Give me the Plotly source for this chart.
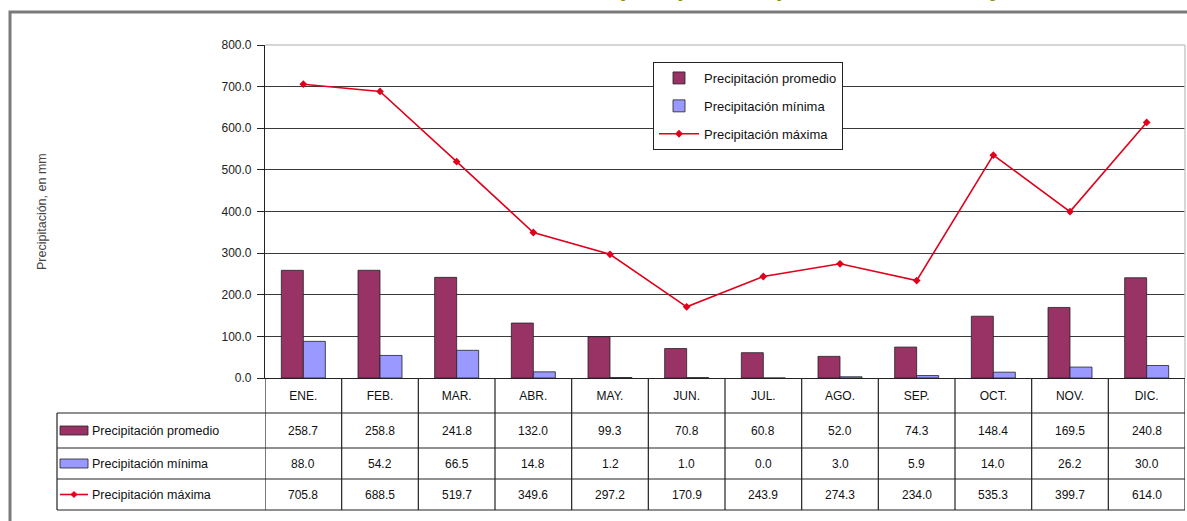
import plotly.graph_objects as go

meses = ["ENE.", "FEB.", "MAR.", "ABR.", "MAY.", "JUN.", "JUL.", "AGO.", "SEP.", "OCT.", "NOV.", "DIC."]
promedio = [258.7, 258.8, 241.8, 132.0, 99.3, 70.8, 60.8, 52.0, 74.3, 148.4, 169.5, 240.8]
minima = [88.0, 54.2, 66.5, 14.8, 1.2, 1.0, 0.0, 3.0, 5.9, 14.0, 26.2, 30.0]
maxima = [705.8, 688.5, 519.7, 349.6, 297.2, 170.9, 243.9, 274.3, 234.0, 535.3, 399.7, 614.0]
series_names = ["Precipitación promedio", "Precipitación mínima", "Precipitación máxima"]
y_title = "Precipitación, en mm"
titulo = "Variación de la precipitación promedio, mínima y máxima"

C_PROM = "#993366"
C_MIN = "#9999FF"
C_MAX = "#E0001B"
FONT = "Liberation Sans"

W, H = 1187, 521
L, R, T, B = 265, 2, 45, 143
PW, PH = W - L - R, H - T - B


def px_x(p):
    return (p - L) / PW


def px_y(p):
    return (H - B - p) / PH


fig = go.Figure()
fig.add_trace(go.Bar(x=meses, y=promedio, name=series_names[0], marker=dict(color=C_PROM, line=dict(color="#222", width=0.8)), legendgroup="a"))
fig.add_trace(go.Bar(x=meses, y=minima, name=series_names[1], marker=dict(color=C_MIN, line=dict(color="#222", width=0.8)), legendgroup="b"))
fig.add_trace(go.Scatter(x=meses, y=maxima, name=series_names[2], mode="lines+markers",
                         line=dict(color=C_MAX, width=1.6), marker=dict(symbol="diamond", size=6, color=C_MAX), legendgroup="c"))

shapes = []
annotations = []

# outer frame
shapes.append(dict(type="rect", xref="paper", yref="paper", x0=px_x(10), x1=px_x(1200), y0=px_y(530), y1=px_y(12),
                   line=dict(color="#7a7a7a", width=3), layer="below"))
# light top / right plot border
shapes.append(dict(type="line", xref="paper", yref="paper", x0=0, x1=1, y0=1, y1=1, line=dict(color="#c8c8c8", width=1.5)))
shapes.append(dict(type="line", xref="paper", yref="paper", x0=1, x1=1, y0=0, y1=1, line=dict(color="#c8c8c8", width=1.5)))

# table geometry
row_bounds = [px_y(413), px_y(448), px_y(479), px_y(510)]
x_leg = px_x(57)
for yb in row_bounds:
    shapes.append(dict(type="line", xref="paper", yref="paper", x0=x_leg, x1=1, y0=yb, y1=yb, line=dict(color="#222", width=1.2)))
for i in range(len(meses) + 1):
    shapes.append(dict(type="line", xref="x", yref="paper", x0=i - 0.5, x1=i - 0.5, y0=0, y1=row_bounds[-1],
                       line=dict(color="#222", width=1.2)))
shapes.append(dict(type="line", xref="paper", yref="paper", x0=x_leg, x1=x_leg, y0=row_bounds[0], y1=row_bounds[-1],
                   line=dict(color="#222", width=1.2)))

rows = [promedio, minima, maxima]
for r, vals in enumerate(rows):
    yc = (row_bounds[r] + row_bounds[r + 1]) / 2
    for i, v in enumerate(vals):
        annotations.append(dict(x=meses[i], y=yc, xref="x", yref="paper", text=f"{v:.1f}", showarrow=False,
                                xanchor="center", yanchor="middle",
                                font=dict(family=FONT, size=12, color="#111")))
    annotations.append(dict(x=px_x(90), y=yc, xref="paper", yref="paper", text=series_names[r], showarrow=False,
                            xanchor="left", yanchor="middle", font=dict(family=FONT, size=12.5, color="#111")))
    sx0, sx1 = px_x(60), px_x(88)
    if r < 2:
        col = C_PROM if r == 0 else C_MIN
        shapes.append(dict(type="rect", xref="paper", yref="paper", x0=sx0, x1=sx1, y0=yc - 4.5 / PH, y1=yc + 4.5 / PH,
                           fillcolor=col, line=dict(color="#222", width=0.8)))
    else:
        shapes.append(dict(type="line", xref="paper", yref="paper", x0=sx0, x1=sx1, y0=yc, y1=yc,
                           line=dict(color=C_MAX, width=1.6)))
        cx = (sx0 + sx1) / 2
        dx, dy = 3 / PW, 3 / PH
        shapes.append(dict(type="path", xref="paper", yref="paper",
                           path=f"M {cx - dx} {yc} L {cx} {yc + dy} L {cx + dx} {yc} L {cx} {yc - dy} Z",
                           fillcolor=C_MAX, line=dict(color=C_MAX, width=1)))

# y-axis title
annotations.append(dict(x=px_x(42), y=px_y(212), xref="paper", yref="paper", text=y_title, textangle=-90,
                        xanchor="center", yanchor="middle",
                        showarrow=False, font=dict(family=FONT, size=12.5, color="#444")))
# title (cut off by the top edge, as in the source image)
annotations.append(dict(x=px_x(772), y=px_y(3), xref="paper", yref="paper", text=f"<b>{titulo}</b>", showarrow=False,
                        xanchor="center", yanchor="bottom", font=dict(family=FONT, size=24, color="#8f8f00")))

fig.update_layout(
    width=W, height=H,
    margin=dict(l=L, r=R, t=T, b=B, pad=0),
    paper_bgcolor="white", plot_bgcolor="white",
    barmode="group", bargap=0.426, bargroupgap=0,
    font=dict(family=FONT, size=12, color="#111"),
    xaxis=dict(type="category", range=[-0.5, 11.5], showline=True, linecolor="#222", linewidth=1.2,
               showgrid=False, ticks="", ticklabelstandoff=6, tickfont=dict(family=FONT, size=12, color="#111")),
    yaxis=dict(range=[0, 800], dtick=100, tickformat=".1f", showgrid=True, gridcolor="#3a3a3a", gridwidth=1,
               showline=True, linecolor="#222", linewidth=1.2, ticks="outside", ticklen=7, tickcolor="#222",
               zeroline=False, tickfont=dict(family=FONT, size=12, color="#222"), ticklabelstandoff=3),
    legend=dict(x=px_x(653), y=px_y(62), xanchor="left", yanchor="top", bgcolor="white", itemwidth=40,
                bordercolor="#222", borderwidth=1, tracegroupgap=8, font=dict(family=FONT, size=13, color="#111")),
    shapes=shapes, annotations=annotations, showlegend=True,
)

fig.write_html("out.html", config={"displayModeBar": False}, post_script="document.body.style.margin='0';")
